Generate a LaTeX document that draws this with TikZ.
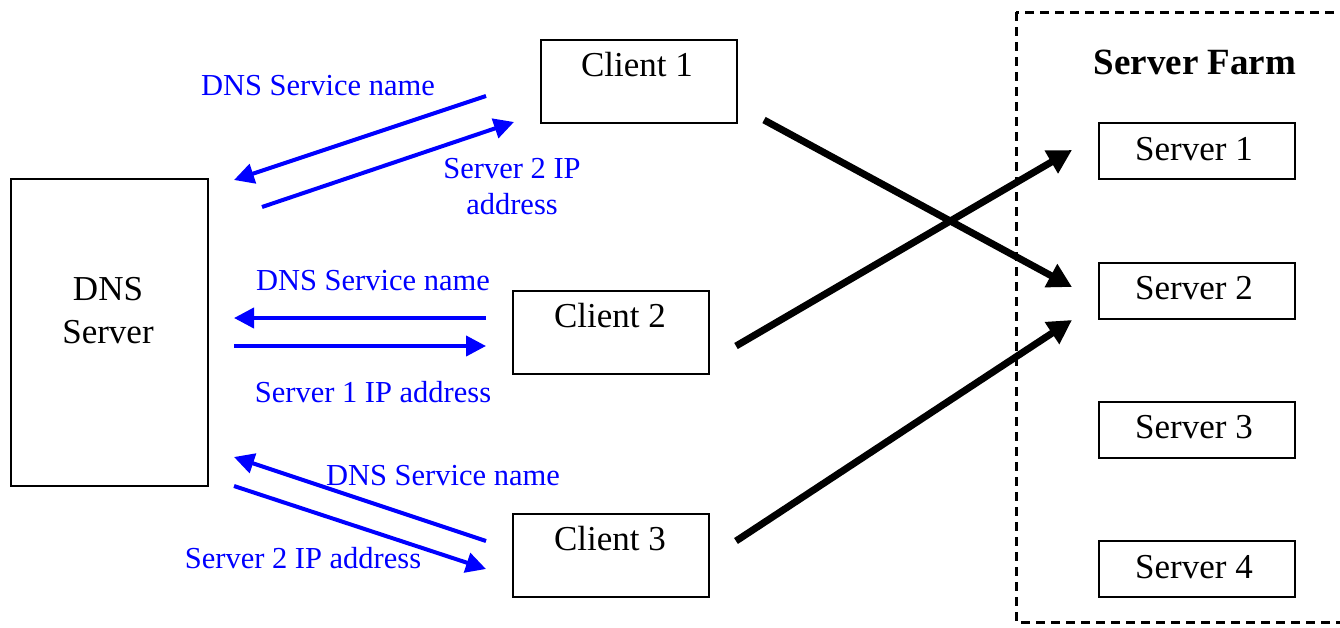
\documentclass[tikz,border=0pt]{standalone}
\usepackage{fontspec}
\setmainfont{Liberation Serif}
\usetikzlibrary{arrows.meta}
\definecolor{dnsblue}{RGB}{0,0,255}
\tikzset{
  box/.style={draw=black, line width=1.6pt, fill=white, inner sep=0pt, anchor=north west},
  btext/.style={anchor=base, inner sep=0pt, font=\fontsize{35}{40}\selectfont},
  ltext/.style={anchor=base, inner sep=0pt, text=dnsblue, font=\fontsize{30.5}{35}\selectfont},
  bluearr/.style={draw=dnsblue, line width=4pt, -{Triangle[length=20pt,width=20pt]}},
  blackarr/.style={draw=black, line width=7pt, -{Triangle[length=24pt,width=25pt]}},
}
\begin{document}
\begin{tikzpicture}[x=1pt,y=-1pt]
\useasboundingbox (0,0) rectangle (1340,627);
\begin{scope}
\clip (0,0) rectangle (1340,627);
\draw[line width=3pt, dash pattern=on 9pt off 6pt] (1016,12) rectangle (1360,622);
\end{scope}
% boxes
\node[box, minimum width=197pt, minimum height=307pt] (dns) at (10,178) {};
\node[box, minimum width=196pt, minimum height=83pt] (c1) at (540,39) {};
\node[box, minimum width=196pt, minimum height=83pt] (c2) at (512,290) {};
\node[box, minimum width=196pt, minimum height=83pt] (c3) at (512,513) {};
\node[box, minimum width=196pt, minimum height=56pt] (s1) at (1098,122) {};
\node[box, minimum width=196pt, minimum height=56pt] (s2) at (1098,262) {};
\node[box, minimum width=196pt, minimum height=56pt] (s3) at (1098,401) {};
\node[box, minimum width=196pt, minimum height=56pt] (s4) at (1098,540) {};
% texts
\node[btext] (dnst1) at (108,300) {DNS};
\node[btext] (dnst2) at (108,343) {Server};
\node[btext] (c1t) at (637,76) {Client 1};
\node[btext] (c2t) at (610,327) {Client 2};
\node[btext] (c3t) at (610,550) {Client 3};
\node[btext] (s1t) at (1194,160) {Server 1};
\node[btext] (s2t) at (1194,299) {Server 2};
\node[btext] (s3t) at (1194,438) {Server 3};
\node[btext] (s4t) at (1194,578) {Server 4};
\node[btext, font=\fontsize{37}{42}\selectfont\bfseries] (farm) at (1195,74) {Server Farm};
% blue labels
\node[ltext] (l1) at (318,95) {DNS Service name};
\node[ltext] (l2) at (512,178) {Server 2 IP};
\node[ltext] (l2b) at (512,214) {address};
\node[ltext] (l3) at (373,290) {DNS Service name};
\node[ltext] (l4) at (373,402) {Server 1 IP address};
\node[ltext] (l5) at (443,485) {DNS Service name};
\node[ltext] (l6) at (303,568) {Server 2 IP address};
% arrow end coordinates
\coordinate (a1s) at (486,96);  \coordinate (a1e) at (234,180);
\coordinate (a2s) at (262,207); \coordinate (a2e) at (514,122);
\coordinate (a3s) at (486,318); \coordinate (a3e) at (234,318);
\coordinate (a4s) at (234,346); \coordinate (a4e) at (486,346);
\coordinate (a5s) at (486,541); \coordinate (a5e) at (234,457);
\coordinate (a6s) at (234,486); \coordinate (a6e) at (486,569);
\coordinate (b1s) at (764,120); \coordinate (b1e) at (1072,287);
\coordinate (b2s) at (736,346); \coordinate (b2e) at (1072,150);
\coordinate (b3s) at (736,541); \coordinate (b3e) at (1072,320);
% blue arrows
\draw[bluearr] (a1s) -- (a1e);
\draw[bluearr] (a2s) -- (a2e);
\draw[bluearr] (a3s) -- (a3e);
\draw[bluearr] (a4s) -- (a4e);
\draw[bluearr] (a5s) -- (a5e);
\draw[bluearr] (a6s) -- (a6e);
% black arrows
\draw[blackarr] (b1s) -- (b1e);
\draw[blackarr] (b2s) -- (b2e);
\draw[blackarr] (b3s) -- (b3e);
\end{tikzpicture}
\end{document}
